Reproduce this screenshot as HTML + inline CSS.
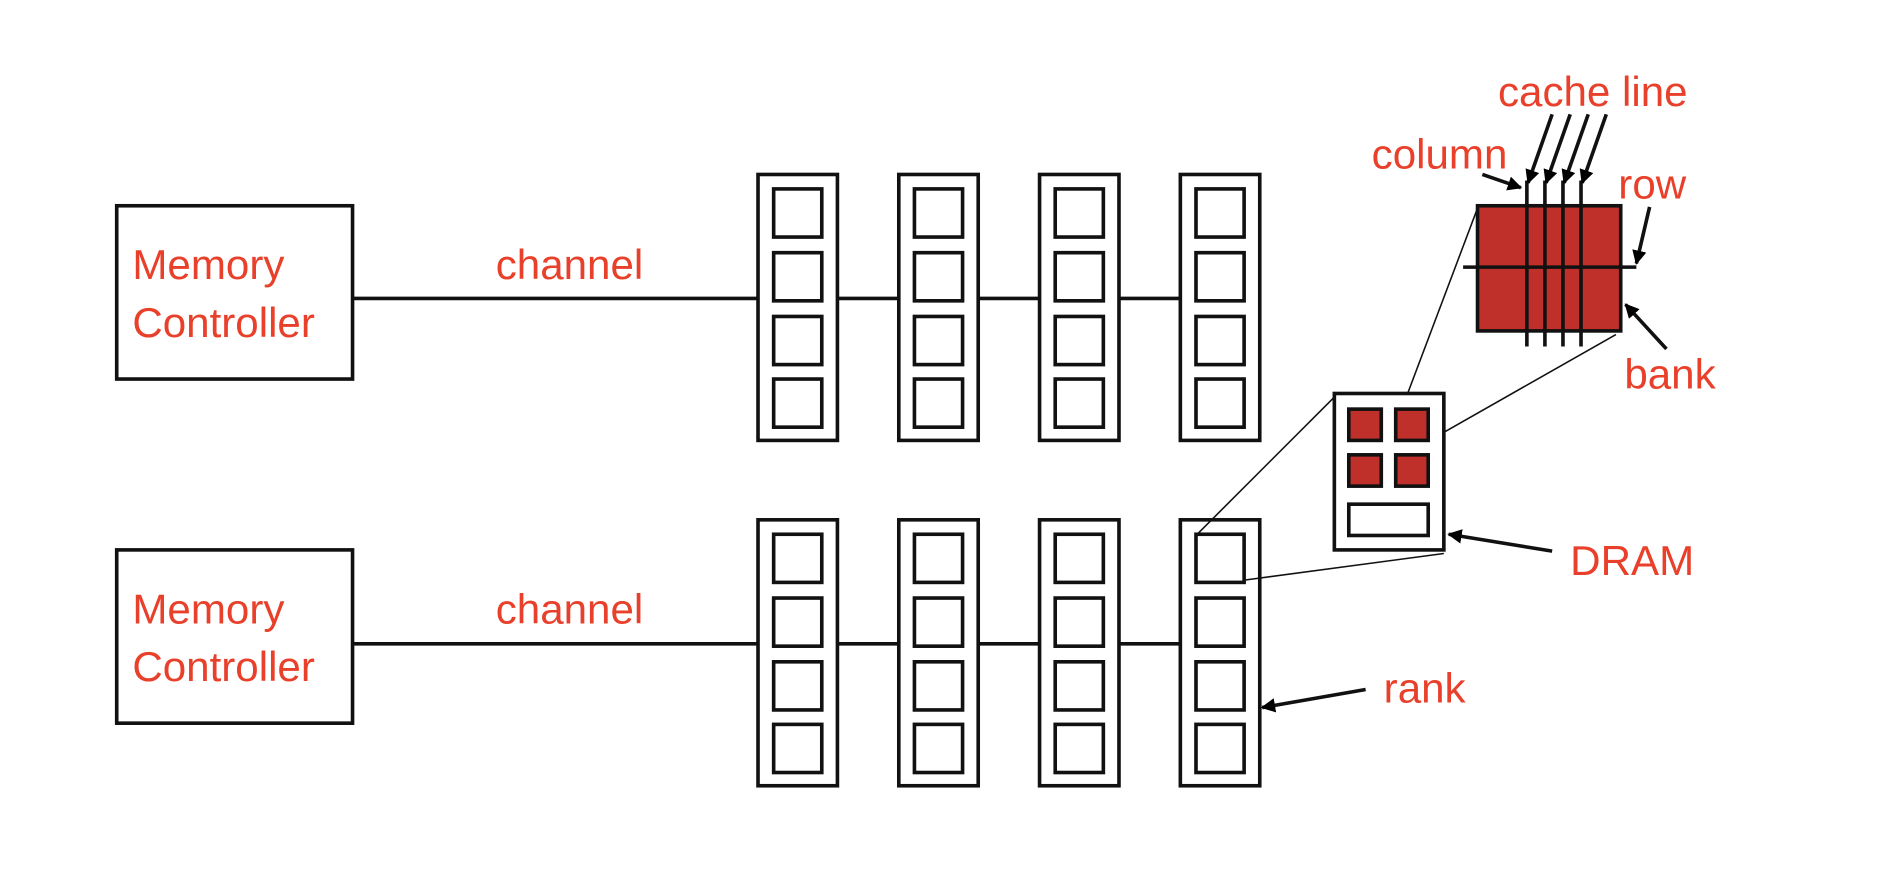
<!DOCTYPE html>
<html><head><meta charset="utf-8"><style>
html,body{margin:0;padding:0;background:#fff;}
svg{display:block;}
text{font-family:"Liberation Sans",Arial,sans-serif;fill:#e8402a;font-size:35px;}
</style></head><body>
<svg width="1877" height="876" viewBox="0 0 1560 728" preserveAspectRatio="none" xmlns="http://www.w3.org/2000/svg">
<defs>
<marker id="ah" viewBox="0 0 10 10" refX="9" refY="5" markerWidth="4" markerHeight="4" orient="auto"><path d="M0,0 L10,5 L0,10 z" fill="#000"/></marker>
</defs>
<g stroke="#111" fill="none" stroke-width="3">
<rect x="97" y="171" width="196" height="144"/>
<rect x="97" y="457" width="196" height="144"/>
<line x1="293" y1="248" x2="1047" y2="248"/>
<line x1="293" y1="535" x2="1047" y2="535"/>
</g>
<text x="110" y="232">Memory</text><text x="110" y="280">Controller</text>
<text x="110" y="518">Memory</text><text x="110" y="566">Controller</text>
<text x="412" y="232">channel</text><text x="412" y="518">channel</text>
<g stroke="#111" stroke-width="3" fill="#fff">
<g id="d">
<rect x="630" y="145" width="66" height="221"/>
<rect x="643" y="157" width="40" height="40"/>
<rect x="643" y="210" width="40" height="40"/>
<rect x="643" y="263" width="40" height="40"/>
<rect x="643" y="315" width="40" height="40"/>
</g>
<use href="#d" x="117"/><use href="#d" x="234"/><use href="#d" x="351"/>
<use href="#d" y="287"/><use href="#d" x="117" y="287"/><use href="#d" x="234" y="287"/><use href="#d" x="351" y="287"/>
</g>
<g stroke="#111" stroke-width="1.3">
<line x1="996" y1="443" x2="1109" y2="330"/>
<line x1="1035" y1="482" x2="1200" y2="460"/>
<line x1="1165" y1="340" x2="1228" y2="173"/>
<line x1="1190" y1="365" x2="1343" y2="278"/>
</g>
<g stroke="#111" stroke-width="3">
<rect x="1109" y="327" width="91" height="130" fill="#fff"/>
<rect x="1121" y="340" width="27" height="26" fill="#c0302a"/>
<rect x="1160" y="340" width="27" height="26" fill="#c0302a"/>
<rect x="1121" y="378" width="27" height="26" fill="#c0302a"/>
<rect x="1160" y="378" width="27" height="26" fill="#c0302a"/>
<rect x="1121" y="419" width="66" height="26" fill="#fff"/>
<rect x="1228" y="171" width="119" height="104" fill="#c0302a"/>
<line x1="1269" y1="150" x2="1269" y2="288"/>
<line x1="1284" y1="150" x2="1284" y2="288"/>
<line x1="1299" y1="150" x2="1299" y2="288"/>
<line x1="1314" y1="150" x2="1314" y2="288"/>
<line x1="1216" y1="222" x2="1360" y2="222"/>
</g>
<g stroke="#111" stroke-width="3" marker-end="url(#ah)">
<line x1="1290" y1="95" x2="1270" y2="152"/>
<line x1="1305" y1="95" x2="1285" y2="152"/>
<line x1="1320" y1="95" x2="1300" y2="152"/>
<line x1="1335" y1="95" x2="1315" y2="152"/>
<line x1="1232" y1="145" x2="1264" y2="156"/>
<line x1="1371" y1="172" x2="1360" y2="219"/>
<line x1="1385" y1="290" x2="1351" y2="253"/>
<line x1="1290" y1="458" x2="1204" y2="444"/>
<line x1="1135" y1="573" x2="1049" y2="588"/>
</g>
<text x="1245" y="88">cache line</text>
<text x="1140" y="140">column</text>
<text x="1345" y="165">row</text>
<text x="1350" y="323">bank</text>
<text x="1305" y="478">DRAM</text>
<text x="1150" y="584">rank</text>
</svg>
</body></html>
